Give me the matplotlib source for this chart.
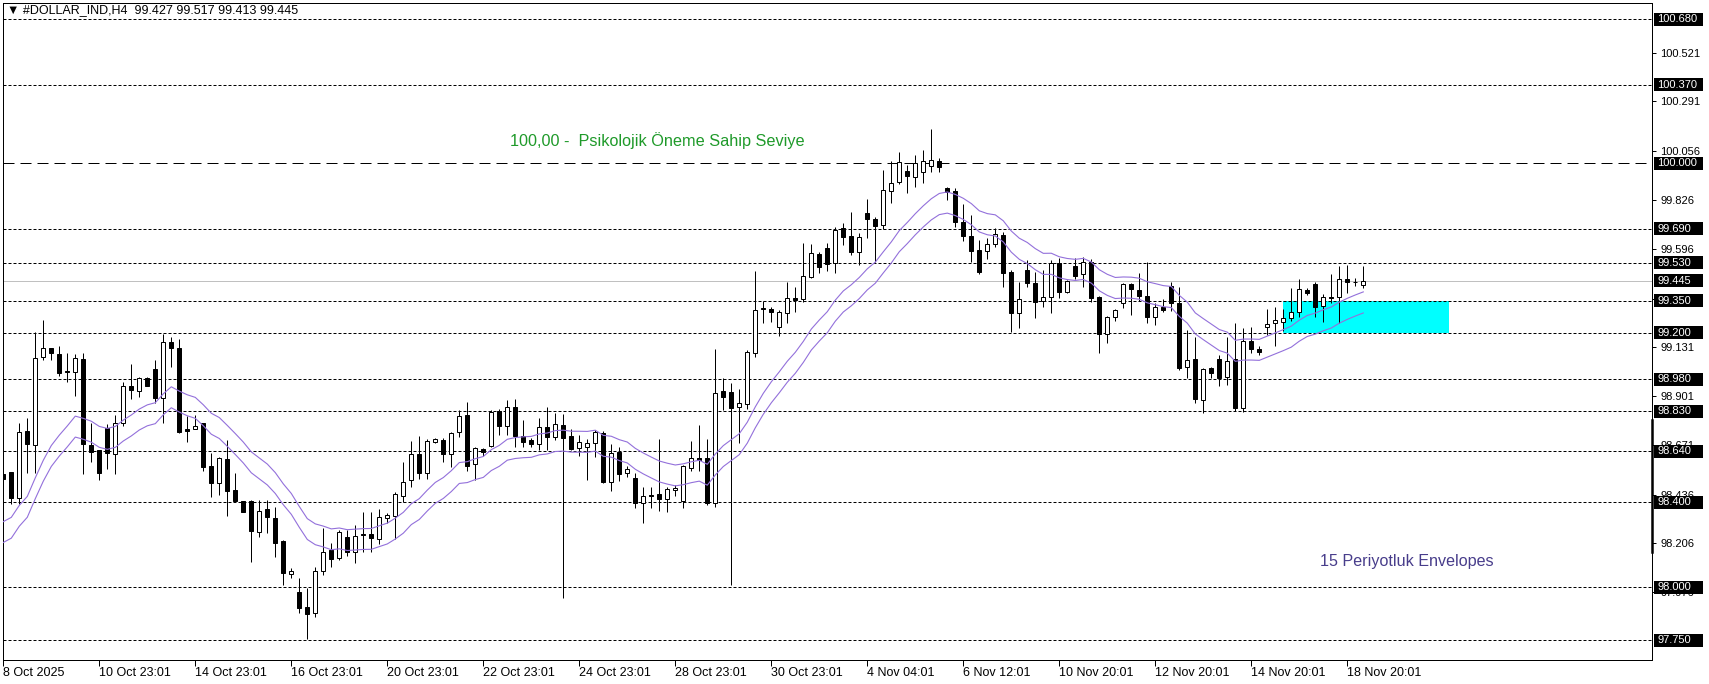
import numpy as np
import pandas as pd
import matplotlib
matplotlib.use("Agg")
import matplotlib.pyplot as plt
from matplotlib.patches import Rectangle
from matplotlib.lines import Line2D
from matplotlib.transforms import blended_transform_factory

plt.rcParams['font.family'] = ['Liberation Sans', 'DejaVu Sans']
plt.rcParams['lines.scale_dashes'] = False

symbol = "#DOLLAR_IND,H4"

opens = [98.534, 98.543, 98.421, 98.737, 98.671, 99.086, 99.128, 99.100, 99.020, 99.015,
         99.076, 98.671, 98.647, 98.751, 98.628, 98.774, 98.949, 98.925, 98.987, 99.029,
         98.892, 99.156, 99.128, 98.746, 98.746, 98.774, 98.572, 98.491, 98.605, 98.458,
         98.406, 98.406, 98.260, 98.369, 98.326, 98.218, 98.062, 97.977, 97.906, 97.878,
         98.076, 98.175, 98.138, 98.237, 98.166, 98.251, 98.251, 98.227, 98.326, 98.336,
         98.430, 98.505, 98.628, 98.538, 98.685, 98.694, 98.628, 98.732, 98.812, 98.581,
         98.652, 98.666, 98.831, 98.760, 98.850, 98.713, 98.694, 98.675, 98.755, 98.708,
         98.765, 98.713, 98.656, 98.661, 98.680, 98.727, 98.496, 98.638, 98.538, 98.515,
         98.397, 98.435, 98.439, 98.416, 98.458, 98.406, 98.562, 98.609, 98.609, 98.397,
         98.925, 98.920, 98.850, 98.864, 99.105, 99.317, 99.312, 99.227, 99.293, 99.364,
         99.359, 99.463, 99.572, 99.600, 99.529, 99.694, 99.656, 99.581, 99.765, 99.737,
         99.708, 99.868, 99.911, 99.963, 99.934, 99.958, 99.987, 100.010, 99.883, 99.868,
         99.722, 99.656, 99.590, 99.586, 99.619, 99.661, 99.487, 99.293, 99.496, 99.435,
         99.350, 99.369, 99.529, 99.392, 99.515, 99.477, 99.534, 99.369, 99.194, 99.274,
         99.340, 99.430, 99.402, 99.373, 99.274, 99.321, 99.421, 99.340, 99.038, 99.076,
         98.883, 99.034, 99.076, 98.991, 99.076, 98.845, 99.161, 99.123, 99.227, 99.246,
         99.251, 99.270, 99.298, 99.402, 99.430, 99.326, 99.369, 99.369, 99.454, 99.439,
         99.427]

highs = [98.543, 98.543, 98.774, 98.798, 99.204, 99.260, 99.128, 99.138, 99.105, 99.100,
         99.105, 98.774, 98.647, 98.770, 98.812, 98.968, 99.053, 98.991, 98.991, 99.072,
         99.194, 99.180, 99.171, 98.807, 98.812, 98.774, 98.633, 98.614, 98.694, 98.538,
         98.406, 98.411, 98.411, 98.411, 98.378, 98.222, 98.090, 98.043, 97.996, 98.095,
         98.279, 98.208, 98.270, 98.270, 98.293, 98.355, 98.355, 98.369, 98.350, 98.449,
         98.590, 98.689, 98.713, 98.699, 98.704, 98.704, 98.732, 98.836, 98.873, 98.661,
         98.656, 98.836, 98.840, 98.883, 98.888, 98.788, 98.704, 98.798, 98.850, 98.821,
         98.817, 98.746, 98.718, 98.699, 98.741, 98.737, 98.675, 98.661, 98.572, 98.538,
         98.472, 98.472, 98.699, 98.472, 98.482, 98.576, 98.689, 98.765, 98.699, 99.123,
         98.987, 98.963, 98.935, 99.119, 99.491, 99.350, 99.321, 99.307, 99.439, 99.416,
         99.623, 99.619, 99.581, 99.623, 99.699, 99.718, 99.770, 99.671, 99.831, 99.746,
         99.968, 100.010, 100.053, 99.991, 100.039, 100.062, 100.161, 100.024, 99.887, 99.883,
         99.807, 99.755, 99.638, 99.647, 99.694, 99.675, 99.496, 99.439, 99.543, 99.487,
         99.496, 99.543, 99.553, 99.449, 99.553, 99.557, 99.548, 99.373, 99.279, 99.312,
         99.435, 99.435, 99.482, 99.534, 99.340, 99.359, 99.439, 99.416, 99.213, 99.180,
         99.034, 99.038, 99.095, 99.180, 99.246, 99.222, 99.227, 99.138, 99.312, 99.321,
         99.312, 99.411, 99.454, 99.411, 99.439, 99.383, 99.477, 99.515, 99.520, 99.458,
         99.517]

lows = [98.501, 98.392, 98.392, 98.538, 98.538, 99.072, 99.072, 98.996, 98.968, 98.902,
        98.534, 98.590, 98.505, 98.557, 98.534, 98.760, 98.888, 98.897, 98.949, 98.869,
        98.774, 99.038, 98.728, 98.685, 98.746, 98.548, 98.425, 98.435, 98.336, 98.404,
        98.355, 98.119, 98.237, 98.255, 98.142, 98.010, 98.043, 97.878, 97.755, 97.859,
        98.057, 98.095, 98.128, 98.147, 98.114, 98.166, 98.166, 98.204, 98.303, 98.227,
        98.402, 98.472, 98.510, 98.510, 98.680, 98.590, 98.567, 98.708, 98.548, 98.505,
        98.619, 98.661, 98.718, 98.718, 98.661, 98.661, 98.661, 98.647, 98.647, 98.694,
        97.949, 98.647, 98.619, 98.505, 98.614, 98.491, 98.454, 98.501, 98.520, 98.373,
        98.303, 98.373, 98.359, 98.355, 98.430, 98.373, 98.548, 98.548, 98.388, 98.378,
        98.836, 98.010, 98.680, 98.840, 99.086, 99.246, 99.251, 99.185, 99.246, 99.298,
        99.345, 99.458, 99.482, 99.491, 99.482, 99.614, 99.567, 99.520, 99.647, 99.534,
        99.689, 99.812, 99.901, 99.859, 99.887, 99.906, 99.958, 99.958, 99.826, 99.699,
        99.633, 99.534, 99.477, 99.548, 99.605, 99.416, 99.204, 99.222, 99.416, 99.270,
        99.321, 99.293, 99.364, 99.388, 99.454, 99.416, 99.345, 99.105, 99.152, 99.255,
        99.317, 99.284, 99.350, 99.246, 99.237, 99.298, 99.303, 99.024, 98.987, 98.869,
        98.821, 98.987, 98.949, 98.954, 98.831, 98.826, 99.105, 99.095, 99.189, 99.138,
        99.208, 99.255, 99.274, 99.378, 99.274, 99.251, 99.340, 99.246, 99.388, 99.421,
        99.413]

closes = [98.510, 98.421, 98.732, 98.675, 99.081, 99.128, 99.105, 99.010, 99.015, 99.081,
          98.675, 98.638, 98.538, 98.633, 98.774, 98.949, 98.930, 98.987, 98.949, 98.892,
          99.156, 99.128, 98.732, 98.737, 98.760, 98.567, 98.491, 98.609, 98.454, 98.406,
          98.355, 98.265, 98.359, 98.331, 98.208, 98.067, 98.076, 97.902, 97.873, 98.076,
          98.166, 98.133, 98.260, 98.166, 98.241, 98.246, 98.232, 98.331, 98.340, 98.439,
          98.496, 98.628, 98.538, 98.689, 98.699, 98.628, 98.727, 98.807, 98.572, 98.656,
          98.638, 98.826, 98.760, 98.850, 98.713, 98.685, 98.675, 98.755, 98.708, 98.770,
          98.704, 98.652, 98.685, 98.680, 98.732, 98.496, 98.633, 98.534, 98.557, 98.397,
          98.430, 98.430, 98.416, 98.463, 98.468, 98.572, 98.609, 98.600, 98.397, 98.916,
          98.897, 98.845, 98.869, 99.109, 99.307, 99.312, 99.298, 99.298, 99.364, 99.354,
          99.468, 99.576, 99.510, 99.524, 99.685, 99.652, 99.581, 99.652, 99.737, 99.704,
          99.873, 99.906, 100.005, 99.939, 100.001, 100.010, 100.015, 99.982, 99.864, 99.722,
          99.656, 99.586, 99.487, 99.619, 99.666, 99.482, 99.293, 99.359, 99.435, 99.345,
          99.369, 99.529, 99.392, 99.444, 99.468, 99.534, 99.364, 99.194, 99.274, 99.307,
          99.430, 99.406, 99.373, 99.274, 99.321, 99.307, 99.340, 99.034, 99.072, 98.888,
          99.029, 99.010, 98.987, 99.067, 98.845, 99.161, 99.123, 99.109, 99.241, 99.260,
          99.270, 99.298, 99.406, 99.388, 99.321, 99.369, 99.364, 99.454, 99.439, 99.439,
          99.445]

date_labels = ["8 Oct 2025", "10 Oct 23:01", "14 Oct 23:01", "16 Oct 23:01", "20 Oct 23:01",
               "22 Oct 23:01", "24 Oct 23:01", "28 Oct 23:01", "30 Oct 23:01", "4 Nov 04:01",
               "6 Nov 12:01", "10 Nov 20:01", "12 Nov 20:01", "14 Nov 20:01", "18 Nov 20:01"]
date_tick_bars = [0, 12, 24, 36, 48, 60, 72, 84, 96, 108, 120, 132, 144, 156, 168]

level_lines = [100.68, 100.37, 99.69, 99.53, 99.35, 99.20, 98.98, 98.83, 98.64, 98.40, 98.00, 97.75]
psych_level = 100.00
axis_ticks = [100.521, 100.291, 100.056, 99.826, 99.596, 99.361, 99.131, 98.901,
              98.671, 98.436, 98.206, 97.976]

env_period = 15
env_deviation_pct = 0.05
env_seed = 98.260          # envelope centre at the first visible bar

zone_low, zone_high = 99.20, 99.35
zone_start_bar, zone_end_bar = 160, 180.75

note_psych = "100,00 -  Psikolojik Öneme Sahip Seviye"
note_env = "15 Periyotluk Envelopes"

# ---------------------------------------------------------------------------
W, H, DPI = 1709, 684, 100
fig = plt.figure(figsize=(W / DPI, H / DPI), dpi=DPI)
fig.patch.set_facecolor('white')
ax_l, ax_r, ax_t, ax_b = 2.5, 1652, 2.5, 660
ax = fig.add_axes([ax_l / W, 1 - ax_b / H, (ax_r - ax_l) / W, (ax_b - ax_t) / H])
ax.set_facecolor('white')

n = len(closes)
x = np.arange(n)
o = np.array(opens); h = np.array(highs); l = np.array(lows); c = np.array(closes)

px = 0.72  # one pixel in points

ax.set_xlim(-0.1, 206.09)
ax.set_ylim(97.6564, 100.758)

# zone
ax.add_patch(Rectangle((zone_start_bar, zone_low), zone_end_bar - zone_start_bar,
                       zone_high - zone_low, facecolor='#00ffff', edgecolor='none', zorder=1.2))

# horizontal levels
for v in level_lines:
    ax.axhline(v, color='black', lw=px, dashes=(3 * px, 2 * px), zorder=1.5)
ax.axhline(psych_level, color='black', lw=px, dashes=(11 * px, 6 * px), zorder=1.5)
ax.axhline(closes[-1], color='#c0c0c0', lw=px, zorder=1.4)

# candles
ax.vlines(x, l, h, color='black', lw=px, zorder=3)
up = c > o
ax.bar(x, np.abs(c - o), bottom=np.minimum(o, c), width=0.5,
       color=np.where(up, 'white', 'black'), edgecolor='black', linewidth=px, zorder=4)

# envelopes (EMA 15, 0.05 %)
ema = pd.Series([env_seed] + closes[1:]).ewm(span=env_period, adjust=False).mean().values
ax.plot(x, ema * (1 + env_deviation_pct / 100), color='#9370DB', lw=0.8, zorder=5)
ax.plot(x, ema * (1 - env_deviation_pct / 100), color='#9370DB', lw=0.8, zorder=5)

# notes
ax.text(63.4, 100.109, note_psych, ha='left', va='center', fontsize=11.7,
        color='#1f9a2a', zorder=6)
ax.text(164.6, 98.119, note_env, ha='left', va='center', fontsize=11.6,
        color='#483D8B', zorder=6)

# spines
for s in ax.spines.values():
    s.set_color('black')
    s.set_linewidth(px)

# y axis on the right
ax.yaxis.tick_right()
ax.set_yticks(axis_ticks)
ax.set_yticklabels([f"{v:.3f}" for v in axis_ticks])
ax.tick_params(axis='y', left=False, right=True, labelleft=False, labelright=True,
               length=3, width=px, pad=3, labelsize=8, colors='black')

# x axis
ax.set_xticks(date_tick_bars)
ax.set_xticklabels(date_labels)
for lab in ax.get_xticklabels():
    lab.set_horizontalalignment('left')
ax.tick_params(axis='x', length=4, width=px, pad=1, labelsize=9, colors='black')

# boxed price labels
btr = blended_transform_factory(ax.transAxes, ax.transData)
axw = ax_r - ax_l
box_h = 13 / 212.0
for v in level_lines + [psych_level, closes[-1]]:
    ax.add_patch(Rectangle(((1654 - ax_l) / axw, v - box_h / 2), 49 / axw, box_h,
                           transform=btr, facecolor='black', edgecolor='none',
                           clip_on=False, zorder=10))
    ax.text((1657.5 - ax_l) / axw, v, f"{v:.3f}", transform=btr, ha='left', va='center',
            color='white', fontsize=8, clip_on=False, zorder=11)

# scroll marker on the price scale
ax.add_line(Line2D([1.0, 1.0], [0.164, 0.365], transform=ax.transAxes, color='black',
                   lw=1.8, clip_on=False, zorder=12))

# header
fig.text(7 / W, 1 - 10 / H,
         f"\u25bc {symbol}  {opens[-1]:.3f} {highs[-1]:.3f} {lows[-1]:.3f} {closes[-1]:.3f}",
         ha='left', va='center', fontsize=9, color='black')

fig.savefig("out.png", dpi=DPI, facecolor='white')
